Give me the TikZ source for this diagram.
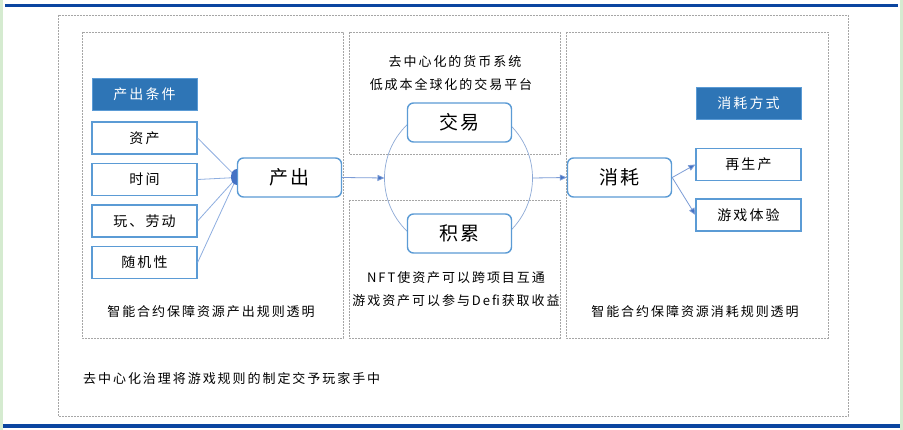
\documentclass[tikz,border=0pt]{standalone}
\usepackage{fontspec}
\newfontfamily\cjk{Noto Sans CJK SC}
\newfontfamily\cjksp{Noto Sans CJK SC}[LetterSpace=15]
\usetikzlibrary{arrows.meta,calc}
\definecolor{hdrblue}{HTML}{2E75B6}
\definecolor{boxblue}{HTML}{5B9BD5}
\definecolor{lineblue}{HTML}{8EAEE0}
\definecolor{arrblue}{HTML}{4472C4}
\definecolor{topblue}{HTML}{0B45A0}
\definecolor{dashgray}{HTML}{A6A6A6}
\definecolor{sidegreen}{HTML}{D5EBD0}
\begin{document}
\begin{tikzpicture}[x=1pt,y=-1pt,
  panel/.style={draw=dashgray,line width=0.8pt,dash pattern=on 2pt off 1pt},
  hdr/.style={fill=hdrblue,draw=boxblue,line width=0.8pt,minimum width=105pt,minimum height=32pt,text=white,font=\cjksp\fontsize{14}{16}\selectfont,inner sep=0pt},
  cond/.style={draw=boxblue,line width=1.2pt,fill=white,minimum width=105pt,minimum height=32pt,font=\cjksp\fontsize{14}{16}\selectfont,inner sep=0pt},
  mainbox/.style={draw=boxblue,line width=1.4pt,fill=white,rounded corners=6pt,minimum width=104pt,minimum height=39pt,font=\cjksp\fontsize{19}{22}\selectfont,inner sep=0pt},
  note/.style={font=\cjksp\fontsize{13}{15}\selectfont,inner sep=0pt,anchor=west},
  conn/.style={draw=lineblue,line width=0.8pt},
  arr/.style={draw=arrblue!70,line width=0.8pt,-{Triangle[length=7pt,width=6pt,fill=arrblue]}}
]
\useasboundingbox (0,0) rectangle (903,430);
\fill[white] (0,0) rectangle (903,430);
% side strips and blue rules
\fill[sidegreen] (0,0) rectangle (2.5,430);
\fill[sidegreen] (900,0) rectangle (903,430);
\fill[topblue] (5,4) rectangle (898,7.5);
\fill[topblue] (3,424) rectangle (900,428);
% dashed panels
\draw[panel] (58,15) rectangle (848,416);
\draw[panel] (82,32) rectangle (343,338);
\draw[panel] (349,32) rectangle (560,154);
\draw[panel] (349,200) rectangle (560,338);
\draw[panel] (566,32) rectangle (828,338);
% circle
\draw[draw=lineblue!90!gray,line width=0.7pt] (458.5,178) circle (74);
% left header and conditions
\node[hdr] (h1) at (144.5,94.5) {产出条件};
\node[cond] (c1) at (144.5,138) {资产};
\node[cond] (c2) at (144.5,179.5) {时间};
\node[cond] (c3) at (144.5,221) {玩、劳动};
\node[cond] (c4) at (144.5,262.5) {随机性};
% main nodes
\node[mainbox] (p) at (289.5,177.5) {产出};
\node[mainbox] (jy) at (459.5,122.5) {交易};
\node[mainbox] (jl) at (459.5,233.5) {积累};
\node[mainbox] (xh) at (619.5,177.5) {消耗};
% right header and outcomes
\node[hdr] (h2) at (748.5,103.5) {消耗方式};
\node[cond] (r1) at (748.5,164.5) {再生产};
\node[cond] (r2) at (748.5,215) {游戏体验};
% connectors into 产出
\foreach \c in {c1,c2,c3,c4} \draw[conn] (\c.east) -- (p.west);
\fill[arrblue] ($(p.west)+(0,-8)$) .. controls ($(p.west)+(-7.5,-8)$) and ($(p.west)+(-7.5,8)$) .. ($(p.west)+(0,8)$) -- cycle;
% circle connectors
\coordinate (cl) at (384.5,178);
\coordinate (cr) at (532.5,178);
\draw[arr] (p.east) -- (cl);
\draw[arr] (cr) -- (xh.west);
\draw[arr] (xh.east) -- (r1.west);
\draw[arr] (xh.east) -- (r2.west);
% texts
\node[note,anchor=center] (t1) at (455,62) {去中心化的货币系统};
\node[note,anchor=center] (t2) at (451,85) {低成本全球化的交易平台};
\node[note,anchor=center] (t3) at (456,278) {NFT使资产可以跨项目互通};
\node[note,anchor=center] (t4) at (456,301) {游戏资产可以参与Defi获取收益};
\node[note,anchor=center] (t5) at (211,312) {智能合约保障资源产出规则透明};
\node[note,anchor=center] (t6) at (695,312) {智能合约保障资源消耗规则透明};
\node[note] (t7) at (83,379) {去中心化治理将游戏规则的制定交予玩家手中};
\end{tikzpicture}
\end{document}
